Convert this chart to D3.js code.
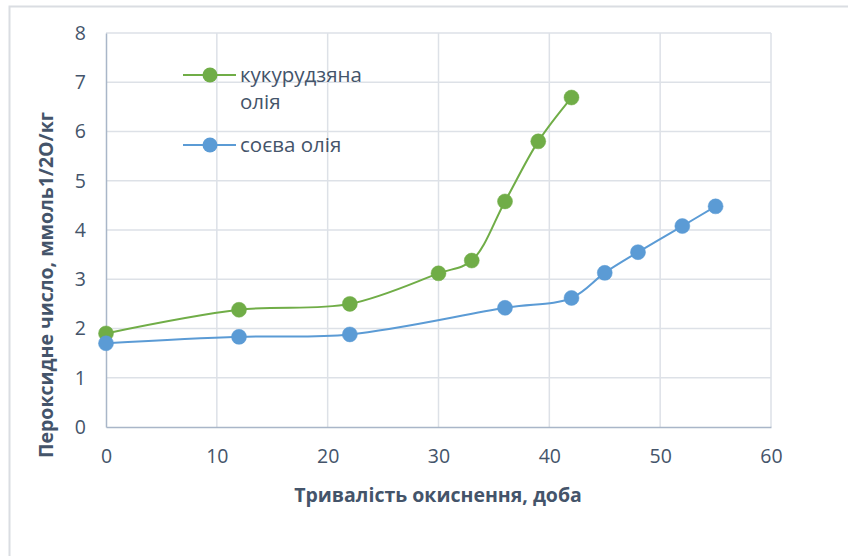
<!DOCTYPE html>
<html><head><meta charset="utf-8">
<script src="https://cdn.jsdelivr.net/npm/d3@7"></script>
<style>body{margin:0;background:#fff}svg{display:block}</style>
</head><body>
<script>
const days = [0,12,22,30,33,36,39,42];
const cornOil = [1.9,2.38,2.5,3.12,3.38,4.58,5.8,6.69];
const soyDays = [0,12,22,36,42,45,48,52,55];
const soyOil = [1.7,1.83,1.88,2.42,2.62,3.13,3.55,4.08,4.48];
const seriesNames = ["кукурудзяна олія","соєва олія"];
const xTicks = [0,10,20,30,40,50,60];
const yTicks = [0,1,2,3,4,5,6,7,8];
const xTitle = "Тривалість окиснення, доба";
const yTitle = "Пероксидне число, ммоль1/2О/кг";

const W=848,H=556;
const svg=d3.select("body").append("svg").attr("width",W).attr("height",H);
const font="'Open Sans', sans-serif";
const txt="#44546A";
svg.append("rect").attr("x",9.5).attr("y",6.5).attr("width",W).attr("height",H).attr("fill","#fff").attr("stroke","#DADDE2").attr("stroke-width",2);

const x=d3.scaleLinear().domain([0,60]).range([106,771]);
const y=d3.scaleLinear().domain([0,8]).range([427,33]);

const g=svg.append("g");
g.selectAll(".vg").data(xTicks.slice(1)).join("line")
 .attr("x1",d=>x(d)).attr("x2",d=>x(d)).attr("y1",y(0)).attr("y2",y(8))
 .attr("stroke","#DDE1E7").attr("stroke-width",1.5);
g.selectAll(".hg").data(yTicks.slice(1)).join("line")
 .attr("x1",x(0)).attr("x2",x(60)).attr("y1",d=>y(d)).attr("y2",d=>y(d))
 .attr("stroke","#DDE1E7").attr("stroke-width",1.5);

const xa=svg.append("g").attr("transform",`translate(0,${y(0)})`)
 .call(d3.axisBottom(x).tickValues(xTicks).tickSize(0).tickPadding(22));
xa.select(".domain").attr("stroke","#A9B6C8").attr("stroke-width",1.5);
xa.selectAll("text").attr("font-family",font).attr("font-size",19.5).attr("fill",txt);
const ya=svg.append("g").attr("transform",`translate(${x(0)},0)`)
 .call(d3.axisLeft(y).tickValues(yTicks).tickSize(0).tickPadding(20));
ya.select(".domain").attr("stroke","#A9B6C8").attr("stroke-width",1.5);
ya.selectAll("text").attr("font-family",font).attr("font-size",19.5).attr("fill",txt);

svg.append("text").attr("x",438).attr("y",502).attr("text-anchor","middle")
 .attr("font-family",font).attr("font-weight","bold").attr("font-size",19.5).attr("fill",txt).text(xTitle);
svg.append("text").attr("transform","translate(53,285) rotate(-90)").attr("text-anchor","middle")
 .attr("font-family",font).attr("font-weight","bold").attr("font-size",19.5).attr("fill",txt).text(yTitle);

const line=d3.line().curve(d3.curveCatmullRom.alpha(0.5)).x(d=>x(d[0])).y(d=>y(d[1]));
const data=[
 {name:seriesNames[0],color:"#70AD47",pts:days.map((d,i)=>[d,cornOil[i]])},
 {name:seriesNames[1],color:"#5B9BD5",pts:soyDays.map((d,i)=>[d,soyOil[i]])}
];
data.forEach(s=>{
 svg.append("path").attr("d",line(s.pts)).attr("fill","none").attr("stroke",s.color).attr("stroke-width",2);
});
data.forEach(s=>{
 svg.selectAll(null).data(s.pts).join("circle").attr("cx",d=>x(d[0])).attr("cy",d=>y(d[1])).attr("r",7.5)
  .attr("fill",s.color).attr("stroke",s.color).attr("stroke-width",0.5);
});

// legend
const leg=[{c:"#70AD47",y:75,lines:["кукурудзяна","олія"]},{c:"#5B9BD5",y:145,lines:["соєва олія"]}];
leg.forEach(l=>{
 svg.append("line").attr("x1",183).attr("x2",236).attr("y1",l.y).attr("y2",l.y).attr("stroke",l.c).attr("stroke-width",2);
 svg.append("circle").attr("cx",210).attr("cy",l.y).attr("r",7.5).attr("fill",l.c);
 const t=svg.append("text").attr("x",240).attr("y",l.y+7).attr("font-family",font).attr("font-size",20.5).attr("fill",txt);
 l.lines.forEach((s,i)=>t.append("tspan").attr("x",240).attr("dy",i?27:0).text(s));
});
</script>
</body></html>
